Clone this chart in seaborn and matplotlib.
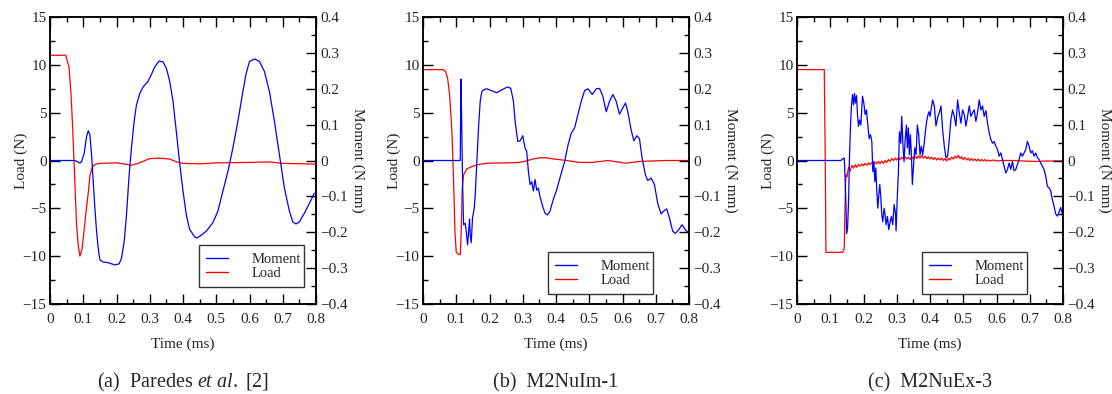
import numpy as np
import pandas as pd
import seaborn as sns
import matplotlib.pyplot as plt
from matplotlib.lines import Line2D
from matplotlib.ticker import MultipleLocator

# ---- (a) Paredes et al. ----
a_load_t = [0.0, 0.047, 0.057, 0.063, 0.068, 0.072, 0.076, 0.080, 0.085, 0.090, 0.096,
            0.102, 0.108, 0.115, 0.120, 0.127, 0.135, 0.150, 0.200, 0.220, 0.245, 0.265,
            0.300, 0.330, 0.360, 0.385, 0.400, 0.450, 0.500, 0.600, 0.660, 0.700, 0.800]
a_load = [11.0, 11.0, 9.8, 7.05, 3.6, 0.1, -3.4, -6.8, -8.9, -10.0, -9.3,
          -7.5, -5.45, -3.4, -1.6, -0.75, -0.4, -0.3, -0.25, -0.35, -0.5, -0.3,
          0.2, 0.25, 0.15, -0.2, -0.3, -0.35, -0.25, -0.2, -0.15, -0.3, -0.38]
a_mom_t = [0.0, 0.075, 0.090, 0.095, 0.103, 0.110, 0.115, 0.120, 0.125, 0.130, 0.135,
           0.140, 0.145, 0.150, 0.160, 0.175, 0.195, 0.208, 0.215, 0.223, 0.230, 0.238,
           0.245, 0.253, 0.260, 0.270, 0.280, 0.295, 0.305, 0.315, 0.328, 0.340, 0.350,
           0.360, 0.370, 0.380, 0.390, 0.400, 0.410, 0.420, 0.435, 0.442, 0.455, 0.470,
           0.490, 0.505, 0.520, 0.535, 0.550, 0.565, 0.580, 0.590, 0.600, 0.615, 0.630,
           0.645, 0.660, 0.675, 0.690, 0.705, 0.720, 0.730, 0.740, 0.750, 0.765, 0.780,
           0.795]
a_mom = [0.0, 0.0, -0.007, -0.003, 0.021, 0.067, 0.083, 0.072, 0.016, -0.059, -0.133,
         -0.197, -0.245, -0.277, -0.283, -0.285, -0.291, -0.288, -0.272, -0.227, -0.152, -0.040,
         0.035, 0.109, 0.155, 0.187, 0.205, 0.221, 0.240, 0.261, 0.277, 0.275, 0.257,
         0.221, 0.165, 0.080, -0.008, -0.085, -0.152, -0.192, -0.213, -0.216, -0.208, -0.197,
         -0.173, -0.141, -0.085, -0.031, 0.035, 0.109, 0.192, 0.243, 0.276, 0.283, 0.276,
         0.248, 0.192, 0.109, 0.016, -0.077, -0.141, -0.171, -0.177, -0.171, -0.147, -0.120,
         -0.091]

# ---- (b) M2NuIm-1 ----
b_load_t = [0.0, 0.060, 0.068, 0.074, 0.080, 0.087, 0.092, 0.096, 0.100, 0.107, 0.112,
            0.115, 0.118, 0.122, 0.132, 0.147, 0.162, 0.192, 0.250, 0.290, 0.310, 0.330,
            0.350, 0.370, 0.391, 0.431, 0.470, 0.510, 0.556, 0.610, 0.650, 0.730, 0.800]
b_load = [9.5, 9.5, 9.3, 8.6, 6.9, 3.0, -2.2, -7.4, -9.6, -9.8, -9.85,
          -7.4, -2.9, -1.5, -0.87, -0.63, -0.45, -0.28, -0.25, -0.2, -0.05, 0.15,
          0.28, 0.28, 0.17, 0.0, -0.2, -0.2, 0.0, -0.28, -0.1, 0.0, 0.0]
b_mom_t = [0.0, 0.112, 0.114, 0.116, 0.119, 0.122, 0.127, 0.130, 0.134, 0.138, 0.140,
           0.142, 0.145, 0.149, 0.154, 0.157, 0.162, 0.167, 0.172, 0.177, 0.182, 0.192,
           0.202, 0.222, 0.237, 0.254, 0.264, 0.272, 0.277, 0.285, 0.292, 0.300, 0.307,
           0.312, 0.317, 0.322, 0.327, 0.332, 0.337, 0.342, 0.347, 0.352, 0.360, 0.367,
           0.374, 0.382, 0.392, 0.401, 0.416, 0.426, 0.436, 0.446, 0.456, 0.466, 0.476,
           0.486, 0.496, 0.509, 0.521, 0.531, 0.541, 0.551, 0.561, 0.571, 0.581, 0.591,
           0.601, 0.609, 0.616, 0.626, 0.634, 0.643, 0.651, 0.659, 0.669, 0.676, 0.686,
           0.696, 0.706, 0.716, 0.724, 0.733, 0.741, 0.751, 0.759, 0.769, 0.779, 0.789,
           0.800]
b_mom = [0.0, 0.0, 0.227, 0.128, -0.059, -0.179, -0.175, -0.197, -0.235, -0.189, -0.163,
         -0.208, -0.229, -0.160, -0.133, -0.096, -0.003, 0.091, 0.165, 0.192, 0.197, 0.200,
         0.196, 0.189, 0.197, 0.205, 0.201, 0.165, 0.109, 0.053, 0.055, 0.069, 0.035,
         0.025, -0.031, -0.067, -0.059, -0.085, -0.053, -0.083, -0.077, -0.101, -0.128, -0.147,
         -0.152, -0.141, -0.108, -0.085, -0.035, -0.003, 0.043, 0.076, 0.091, 0.128, 0.165,
         0.195, 0.200, 0.184, 0.200, 0.201, 0.179, 0.136, 0.165, 0.184, 0.165, 0.129,
         0.147, 0.160, 0.136, 0.085, 0.055, 0.069, 0.061, 0.006, -0.040, -0.056, -0.049,
         -0.067, -0.120, -0.149, -0.141, -0.135, -0.160, -0.197, -0.203, -0.193, -0.179, -0.193,
         -0.203]

# ---- (c) M2NuEx-3 ----
c_load_t = [0.0, 0.082, 0.085, 0.087, 0.137, 0.142, 0.144, 0.146, 0.148,
            0.150, 0.155, 0.160, 0.165, 0.170, 0.175, 0.180, 0.185, 0.190, 0.195,
            0.200, 0.205, 0.210, 0.215, 0.220, 0.225, 0.230, 0.235, 0.240, 0.245,
            0.250, 0.255, 0.260, 0.265, 0.270, 0.275, 0.280, 0.285, 0.290, 0.295,
            0.300, 0.305, 0.310, 0.315, 0.320, 0.325, 0.330, 0.335, 0.340, 0.345,
            0.350, 0.355, 0.360, 0.365, 0.370, 0.375, 0.380, 0.385, 0.390, 0.395,
            0.400, 0.405, 0.410, 0.415, 0.420, 0.425, 0.430, 0.435, 0.440, 0.445,
            0.450, 0.455, 0.460, 0.465, 0.470, 0.475, 0.480, 0.485, 0.490, 0.495,
            0.500, 0.505, 0.510, 0.515, 0.520, 0.525, 0.530, 0.535, 0.540, 0.545,
            0.550, 0.555, 0.560, 0.565, 0.570, 0.575, 0.580, 0.590, 0.600,
            0.620, 0.650, 0.680, 0.720, 0.750, 0.800]
c_load = [9.5, 9.5, 0.0, -9.6, -9.6, -9.2, -5.7, -2.2, -1.5,
          -1.7, -0.7, -1.1, -0.5, -0.8, -0.45, -0.7, -0.4, -0.6, -0.35,
          -0.55, -0.3, -0.5, -0.25, -0.45, -0.2, -0.45, -0.15, -0.35, -0.1,
          -0.35, -0.05, -0.3, 0.0, -0.2, 0.1, -0.1, 0.2, 0.0, 0.25,
          0.05, 0.3, 0.1, 0.35, 0.15, 0.4, 0.15, 0.35, 0.1, 0.4,
          0.15, 0.45, 0.2, 0.5, 0.25, 0.55, 0.25, 0.45, 0.2, 0.4,
          0.15, 0.35, 0.1, 0.3, 0.05, 0.25, 0.05, 0.25, 0.0, 0.2,
          -0.05, 0.25, 0.05, 0.35, 0.15, 0.45, 0.25, 0.55, 0.2, 0.4,
          0.1, 0.3, 0.05, 0.25, 0.0, 0.2, 0.0, 0.15, -0.05, 0.15,
          -0.05, 0.1, -0.05, 0.1, -0.05, 0.05, -0.05, 0.05, -0.05,
          0.0, 0.0, -0.05, -0.1, -0.05, -0.05]
c_mom_t = [0.0, 0.132, 0.137, 0.142, 0.144, 0.147, 0.149, 0.152, 0.155, 0.158, 0.161,
           0.164, 0.167, 0.170, 0.173, 0.176, 0.179, 0.182, 0.185, 0.188, 0.192, 0.197,
           0.201, 0.205, 0.209, 0.213, 0.217, 0.221, 0.225, 0.228, 0.231, 0.234, 0.237,
           0.240, 0.243, 0.246, 0.249, 0.252, 0.255, 0.258, 0.262, 0.265, 0.268, 0.272,
           0.276, 0.280, 0.284, 0.288, 0.292, 0.296, 0.298, 0.301, 0.305, 0.308, 0.312,
           0.315, 0.319, 0.322, 0.325, 0.329, 0.332, 0.335, 0.338, 0.341, 0.344, 0.347,
           0.350, 0.354, 0.358, 0.362, 0.366, 0.370, 0.374, 0.378, 0.382, 0.386, 0.390,
           0.394, 0.397, 0.400, 0.408, 0.413, 0.418, 0.423, 0.428, 0.433, 0.438, 0.443,
           0.448, 0.453, 0.458, 0.463, 0.468, 0.473, 0.478, 0.483, 0.488, 0.493, 0.498,
           0.503, 0.508, 0.513, 0.518, 0.523, 0.528, 0.533, 0.538, 0.543, 0.548, 0.553,
           0.558, 0.563, 0.568, 0.573, 0.578, 0.583, 0.588, 0.593, 0.598, 0.603, 0.608,
           0.613, 0.618, 0.623, 0.628, 0.633, 0.638, 0.643, 0.648, 0.653, 0.658, 0.663,
           0.668, 0.673, 0.678, 0.683, 0.688, 0.693, 0.698, 0.703, 0.708, 0.713, 0.718,
           0.723, 0.728, 0.733, 0.738, 0.743, 0.748, 0.753, 0.758, 0.763, 0.768, 0.773,
           0.778, 0.783, 0.788, 0.793, 0.798]
c_mom = [0.0, 0.0, 0.004, 0.007, -0.032, -0.115, -0.203, -0.189, -0.115, 0.016, 0.099,
         0.155, 0.184, 0.155, 0.187, 0.160, 0.181, 0.128, 0.095, 0.113, 0.099, 0.179,
         0.160, 0.128, 0.141, 0.099, 0.061, 0.072, 0.053, -0.031, -0.003, -0.059, -0.021,
         -0.085, -0.133, -0.096, -0.067, -0.101, -0.152, -0.171, -0.133, -0.152, -0.179, -0.156,
         -0.193, -0.171, -0.156, -0.179, -0.123, -0.147, -0.196, -0.115, -0.031, 0.080, 0.048,
         0.123, 0.035, -0.003, 0.053, 0.099, 0.035, 0.091, 0.016, 0.072, 0.016, -0.067,
         -0.021, 0.035, 0.016, 0.099, 0.072, 0.016, 0.040, 0.016, 0.043, 0.080, 0.109,
         0.128, 0.136, 0.123, 0.169, 0.152, 0.096, 0.120, 0.133, 0.152, 0.085, 0.040,
         0.008, 0.012, 0.059, 0.115, 0.141, 0.123, 0.096, 0.169, 0.133, 0.104, 0.141,
         0.128, 0.096, 0.123, 0.152, 0.123, 0.133, 0.141, 0.109, 0.133, 0.169, 0.141,
         0.152, 0.123, 0.139, 0.104, 0.077, 0.059, 0.048, 0.053, 0.040, 0.031, 0.012,
         0.021, 0.003, -0.016, -0.035, -0.025, -0.007, -0.025, -0.003, -0.029, -0.025, -0.011,
         0.003, 0.021, 0.012, 0.021, 0.031, 0.053, 0.040, 0.021, 0.027, 0.012, 0.021,
         0.008, 0.003, -0.007, -0.016, -0.025, -0.043, -0.072, -0.076, -0.085, -0.109, -0.127,
         -0.149, -0.155, -0.144, -0.131, -0.149]

panels = [
    ('(a)  Paredes $\\mathit{et\\ al.}$ [2]', a_load_t, a_load, a_mom_t, a_mom, (0.56, 0.059, 0.395, 0.154)),
    ('(b)  M2NuIm-1', b_load_t, b_load, b_mom_t, b_mom, (0.47, 0.035, 0.395, 0.153)),
    ('(c)  M2NuEx-3', c_load_t, c_load, c_mom_t, c_mom, (0.47, 0.035, 0.395, 0.153)),
]

sns.set_theme(style='ticks')
plt.rcParams['font.family'] = ['Liberation Serif', 'DejaVu Serif']
plt.rcParams['mathtext.fontset'] = 'custom'
plt.rcParams['mathtext.rm'] = 'Liberation Serif'
plt.rcParams['mathtext.it'] = 'Liberation Serif:italic'
plt.rcParams['axes.unicode_minus'] = True

fig = plt.figure(figsize=(11.12, 3.94), dpi=100)
lefts = [50 / 1112, 423 / 1112, 797 / 1112]

for left, (caption, lt, lv, mt, mv, leg_box) in zip(lefts, panels):
    ax = fig.add_axes([left, 90 / 394, 266 / 1112, 287 / 394])
    ax2 = ax.twinx()

    sns.lineplot(x=lt, y=lv, ax=ax, color='#ff0000', lw=0.9, sort=False, estimator=None)
    sns.lineplot(x=mt, y=mv, ax=ax2, color='#0000ff', lw=0.9, sort=False, estimator=None)

    ax.set_xlim(0, 0.8)
    ax.set_ylim(-15, 15)
    ax2.set_ylim(-0.4, 0.4)

    ax.xaxis.set_major_locator(MultipleLocator(0.1))
    ax.xaxis.set_minor_locator(MultipleLocator(0.05))
    ax.yaxis.set_major_locator(MultipleLocator(5))
    ax.yaxis.set_minor_locator(MultipleLocator(2.5))
    ax2.yaxis.set_major_locator(MultipleLocator(0.1))
    ax2.yaxis.set_minor_locator(MultipleLocator(0.05))
    ax.xaxis.set_major_formatter(lambda v, p: '0' if abs(v) < 1e-9 else f'{v:.1f}')
    ax2.yaxis.set_major_formatter(lambda v, p: '0' if abs(v) < 1e-9 else f'{v:.1f}'.replace('-', '\u2212'))

    ax.tick_params(axis='x', which='both', direction='in', top=True, bottom=True, labelsize=11, pad=6.5)
    ax.tick_params(axis='y', which='both', direction='in', left=True, right=False, labelsize=11, pad=2.5)
    ax2.tick_params(axis='y', which='both', direction='in', right=True, left=False, labelsize=11, pad=3)
    for a in (ax, ax2):
        a.tick_params(which='major', length=7, width=1.0, color='black')
        a.tick_params(which='minor', length=3.6, width=1.0, color='black')
        for s in a.spines.values():
            s.set_linewidth(1.1)
            s.set_color('black')

    ax.set_xlabel('Time (ms)', fontsize=11, labelpad=8)
    ax.set_ylabel('Load (N)', fontsize=11, labelpad=-4)
    ax2.set_ylabel('Moment (N mm)', fontsize=11, rotation=270, labelpad=12)

    handles = [Line2D([], [], color='#0000ff', lw=1.0), Line2D([], [], color='#ff0000', lw=1.0)]
    leg = ax2.legend(handles, ['Moment', 'Load'], loc='lower left', bbox_to_anchor=leg_box,
                     mode='expand', fontsize=10.5, frameon=True, fancybox=False,
                     handlelength=1.5, handletextpad=1.6, borderpad=0.5, labelspacing=0.05,
                     borderaxespad=0)
    leg.get_frame().set_edgecolor('black')
    leg.get_frame().set_linewidth(1.0)

    fig.text(left + 133 / 1112, 0.028, caption, ha='center', va='center', fontsize=14.5)

fig.savefig('out.png', dpi=100)
